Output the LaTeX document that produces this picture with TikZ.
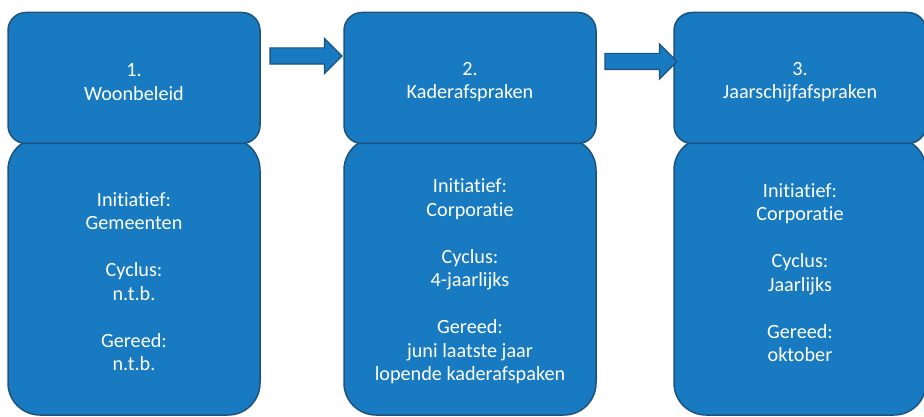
\documentclass[tikz,border=0pt]{standalone}
\usepackage{fontspec}
\setmainfont{Carlito}[Ligatures=NoCommon]
\usetikzlibrary{shapes.arrows}

\newcommand*{\boxw}{252}
\newcommand*{\headh}{131}
\newcommand*{\bodyh}{277}
\definecolor{stepblue}{RGB}{24,122,192}
\definecolor{stepline}{RGB}{30,82,126}

\begin{document}
\begin{tikzpicture}
[
	x=1pt,
	y=-1pt,
	headbox/.style={rectangle,rounded corners=18pt,draw=stepline,fill=stepblue,line width=1.5pt,minimum width=\boxw pt,minimum height=\headh pt},
	bodybox/.style={headbox,rounded corners=32pt,minimum height=\bodyh pt},
	steptext/.style={text=white,align=center,font=\fontsize{20.2}{23.5}\selectfont},
	blockarrow/.style={single arrow,draw=stepline,fill=stepblue,line width=1.2pt,inner sep=0pt,inner ysep=7.5pt,minimum height=72pt,single arrow head extend=9.5pt}
]

	\useasboundingbox (0,0) rectangle (924,417);

	% bodies
	\node[bodybox] at (134,276.5) (body1) {};
	\node[bodybox] at (470,276.5) (body2) {};
	\node[bodybox] at (800,276.5) (body3) {};

	\node[steptext] at ([yshift=-5pt]body1.center) (text1) {Initiatief:\\Gemeenten\\[23.5pt]Cyclus:\\n.t.b.\\[23.5pt]Gereed:\\n.t.b.};
	\node[steptext] at ([yshift=-5pt]body2.center) (text2) {Initiatief:\\Corporatie\\[23.5pt]Cyclus:\\4-jaarlijks\\[23.5pt]Gereed:\\juni laatste jaar\\lopende kaderafspaken};
	\node[steptext] at ([yshift=4pt]body3.center) (text3) {Initiatief:\\Corporatie\\[23.5pt]Cyclus:\\Jaarlijks\\[23.5pt]Gereed:\\oktober};

	% heads
	\node[headbox] at (134,78) (head1) {};
	\node[headbox] at (470,78) (head2) {};
	\node[headbox] at (800,78) (head3) {};

	\node[steptext] at ([yshift=-4pt]head1.center) (title1) {1.\\Woonbeleid};
	\node[steptext] at ([yshift=-4pt]head2.center) (title2) {2.\\Kaderafspraken};
	\node[steptext] at ([yshift=-4pt]head3.center) (title3) {3.\\Jaarschijfafspraken};

	% arrows
	\node[blockarrow] at (302,56) (arrow1) {};
	\node[blockarrow] at (637,61.5) (arrow2) {};

\end{tikzpicture}
\end{document}
